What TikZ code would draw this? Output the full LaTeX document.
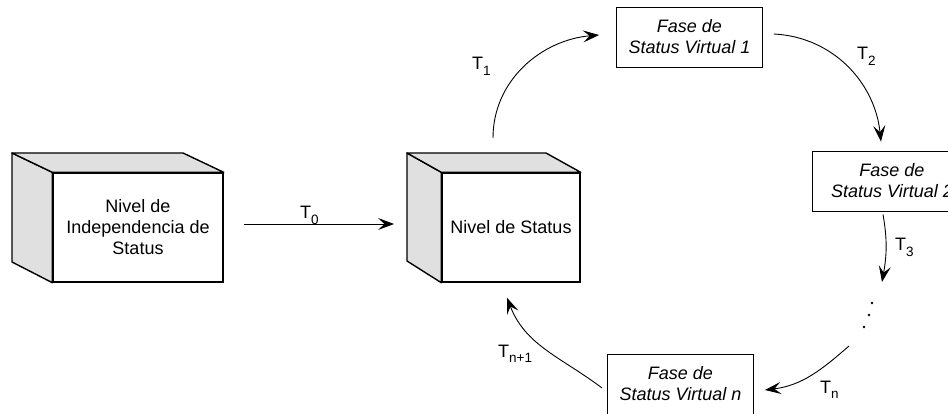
\documentclass[tikz,border=0pt]{standalone}
\usepackage{fontspec}
\setmainfont{Liberation Sans}
\usetikzlibrary{arrows.meta}
\definecolor{sidegray}{RGB}{224,224,224}
% transition label: T with a lowered index
\newcommand\Tlab[1]{T\raisebox{-0.28em}{\fontsize{13.5}{13.5}\selectfont #1}}
\begin{document}
\begin{tikzpicture}[x=1pt,y=-1pt,
  face/.style={draw, line width=1.4pt, fill=white, inner sep=0pt, align=center,
               font=\fontsize{18}{21}\selectfont},
  side/.style={draw, line width=1.4pt, fill=sidegray, line join=round},
  phase/.style={draw, line width=0.9pt, fill=white, inner sep=0pt,
                minimum width=146pt, minimum height=60pt, align=center,
                font=\fontsize{18}{21}\selectfont\itshape},
  arr/.style={-{Stealth[length=16pt,width=12pt,inset=6.5pt]}, line width=0.9pt},
  tlab/.style={anchor=base west, inner sep=0pt, font=\fontsize{18}{18}\selectfont}]

\clip (0,0) rectangle (948,414);
\fill[white] (0,0) rectangle (948,414);

% level of status independence (3D block)
\node[face, minimum width=170pt, minimum height=109pt] (lf) at (138,227.5)
  {Nivel de\\Independencia de\\Status};
\draw[side] (lf.north west) -- (12,153) -- (12,262) -- (lf.south west) -- cycle;
\draw[side] (lf.north west) -- (12,153) -- (183,153) -- (lf.north east) -- cycle;

% level of status (3D block)
\node[face, minimum width=138pt, minimum height=109pt] (mf) at (511,227.5)
  {Nivel de Status};
\draw[side] (mf.north west) -- (407,153) -- (407,261) -- (mf.south west) -- cycle;
\draw[side] (mf.north west) -- (407,153) -- (546,153) -- (mf.north east) -- cycle;
\coordinate (mleft) at (407,224);
\coordinate (mtop) at (493,153);

% virtual status phases
\node[phase] (v1) at (689.5,37)  {Fase de\\Status Virtual 1};
\node[phase, minimum width=160pt] (v2) at (892,181) {Fase de\\Status Virtual 2};
\node[phase] (vn) at (680.5,384) {Fase de\\Status Virtual n};

% transitions
\draw[arr, shorten <=20pt, shorten >=13pt] (lf.east |- mleft) -- (mleft);
\draw[arr] ([yshift=15pt]mtop) to[out=90,in=185] ([xshift=-17pt,yshift=2pt]v1.west);
\draw[arr] ([xshift=11pt,yshift=3pt]v1.east) to[out=-3,in=96] ([xshift=-11pt,yshift=9pt]v2.north);
\coordinate (t3end) at (882,282);
\draw[arr] ([xshift=-9pt,yshift=-3pt]v2.south) to[out=-80,in=80] (t3end);
\coordinate (tnstart) at (849,346);
\draw[arr] (tnstart) to[out=221,in=7] ([xshift=11pt,yshift=-6pt]vn.east);
\draw[arr] ([xshift=-5pt,yshift=-4pt]vn.west) to[out=143,in=-69] ([xshift=-4pt,yshift=-15pt]mf.south);

% ellipsis between phase 2 and phase n
\foreach \p in {(872,303),(869,315),(864,327)}
  \fill \p circle (1.3pt);

% transition labels
\node[tlab] (l0) at (300,219) {\Tlab{0}};
\node[tlab] (l1) at (472,70)  {\Tlab{1}};
\node[tlab] (l2) at (857,60)  {\Tlab{2}};
\node[tlab] (l3) at (895,251) {\Tlab{3}};
\node[tlab] (ln) at (820,393) {\Tlab{n}};
\node[tlab] (lm) at (498,357) {\Tlab{n+1}};
\end{tikzpicture}
\end{document}
